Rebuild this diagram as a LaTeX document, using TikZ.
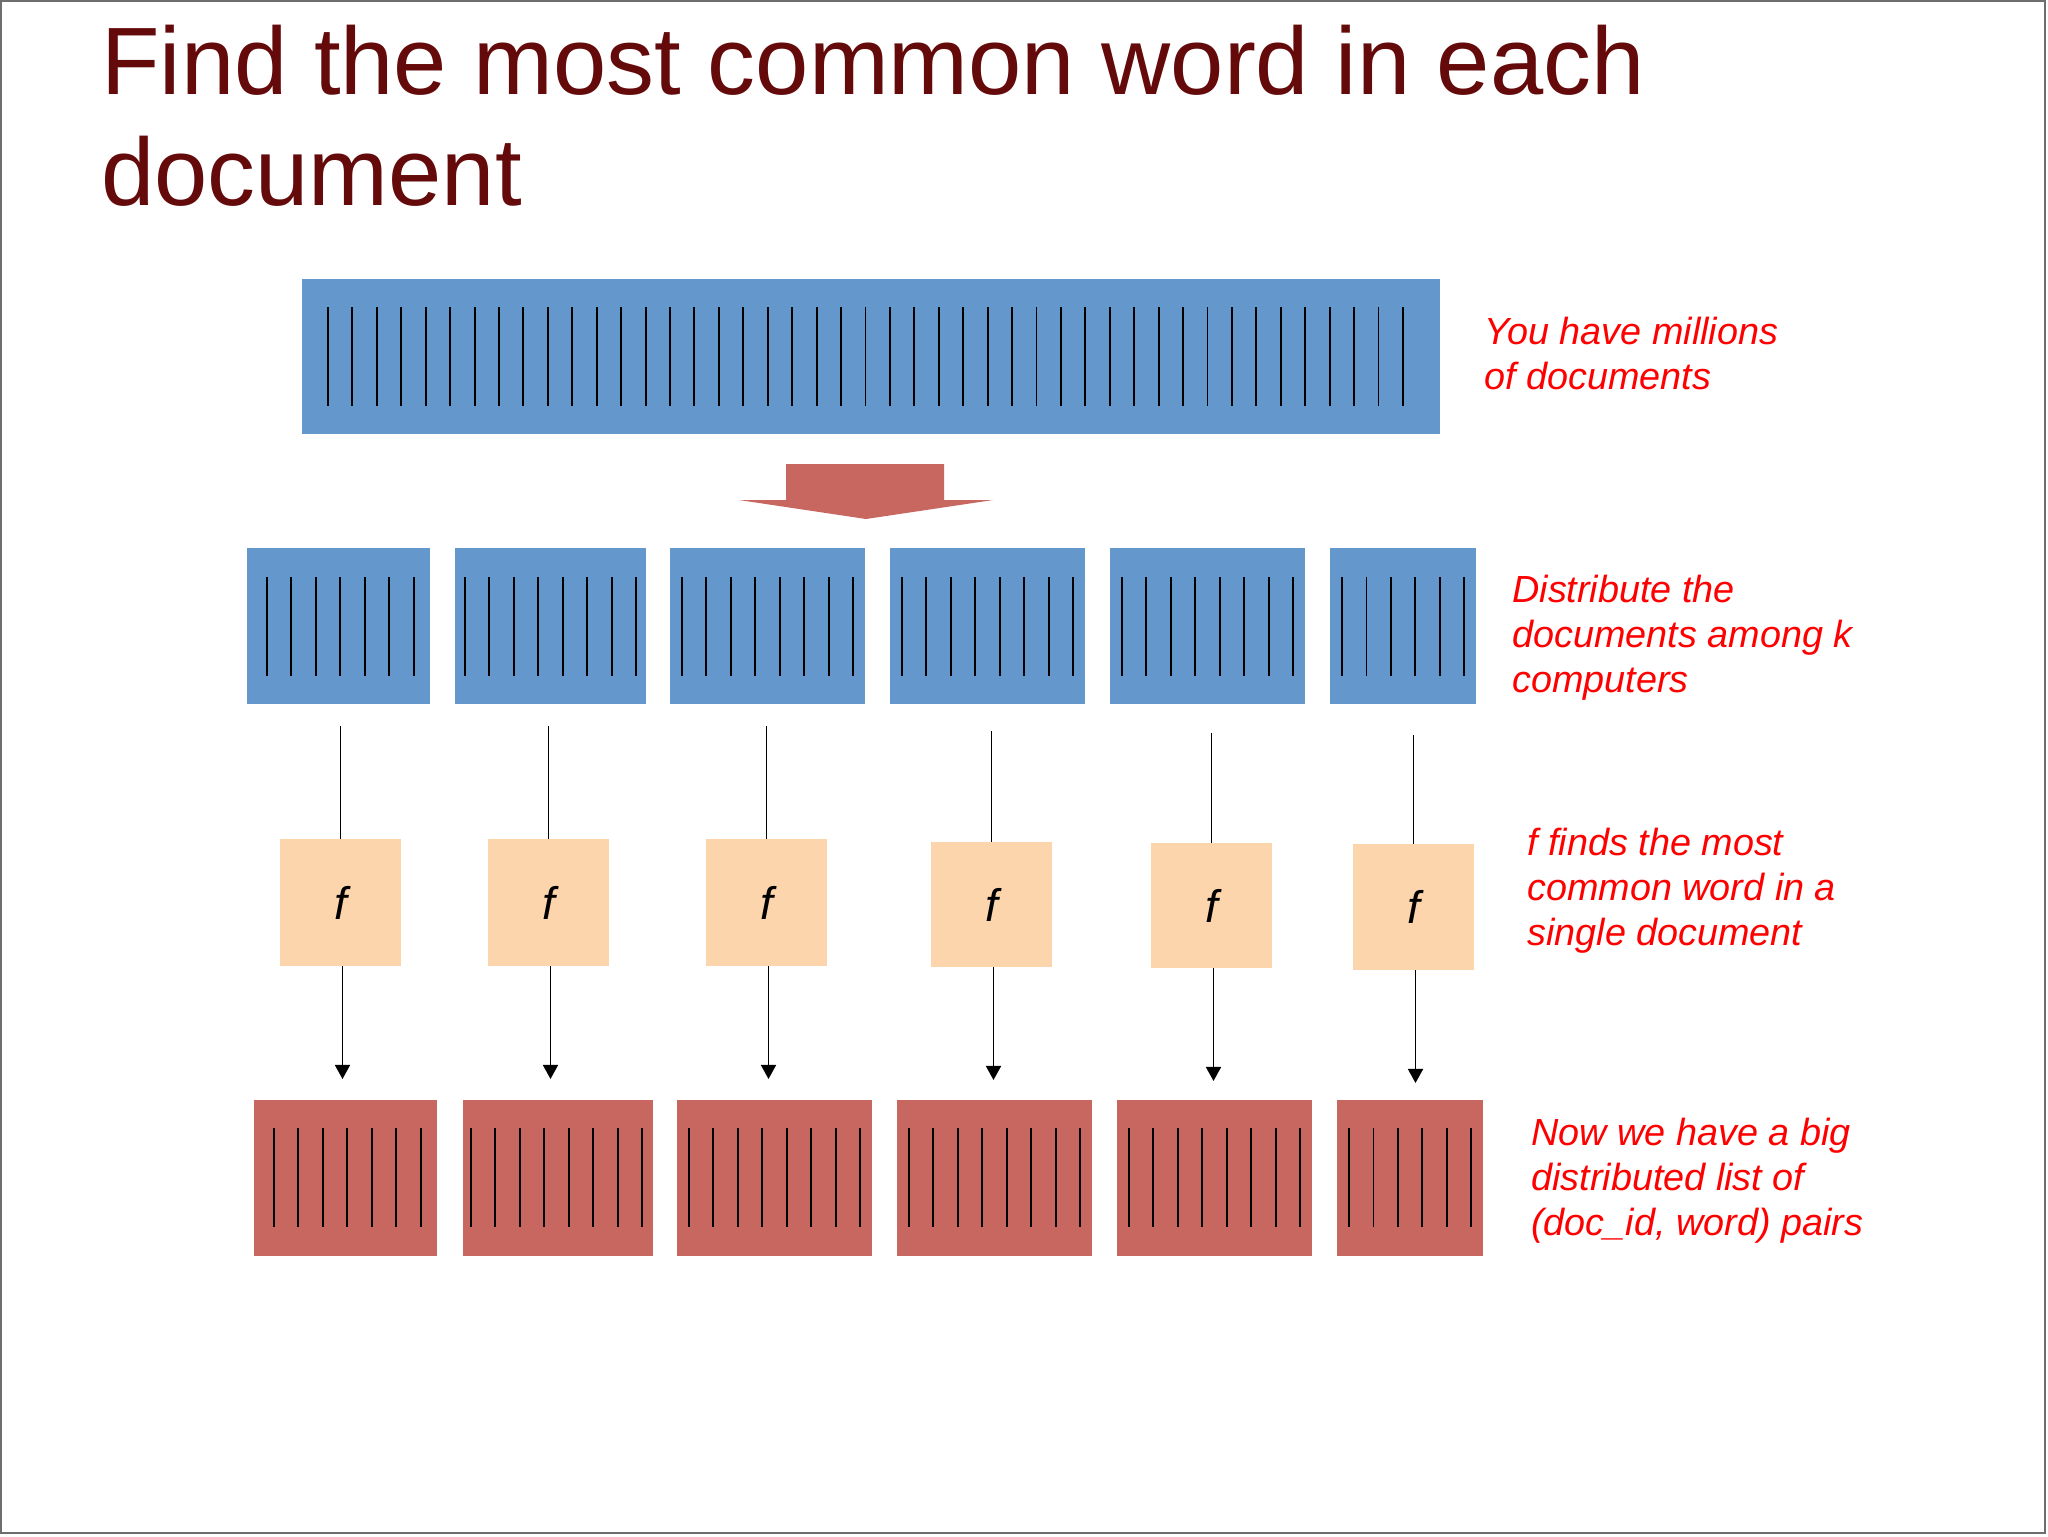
\documentclass[tikz,border=0pt]{standalone}
\usepackage{fontspec}
\setmainfont{Liberation Sans}
\usetikzlibrary{arrows.meta,calc}
\definecolor{docblue}{RGB}{100,151,203}
\definecolor{docred}{RGB}{200,102,96}
\definecolor{fpeach}{RGB}{252,213,172}
\definecolor{titlered}{RGB}{100,10,10}
\definecolor{notered}{RGB}{255,0,0}
\definecolor{framegray}{RGB}{110,110,110}
\newcommand{\mkbox}[6]{% style, name, x1, y1, x2, y2
  \node[#1, minimum width={(#5-#3)*0.02cm}, minimum height={(#6-#4)*0.02cm}] (#2) at ({(#3+#5)/2},{(#4+#6)/2}) {};}
\newcommand{\docrules}[4]{% first x, count, y1, y2
  \foreach \i in {1,...,#2} \draw[docline] ({#1+(\i-1)*24.45},#3) -- ({#1+(\i-1)*24.45},#4);}
\begin{document}
\begin{tikzpicture}[x=0.02cm,y=-0.02cm,
  boxbase/.style={draw=none, inner sep=0pt, outer sep=0pt, rectangle},
  bluebox/.style={boxbase, fill=docblue},
  redbox/.style={boxbase, fill=docred},
  fbox/.style={boxbase, fill=fpeach, font=\fontsize{26pt}{30pt}\selectfont\itshape},
  docline/.style={black, line width=1.1pt},
  conn/.style={black, line width=1.1pt},
  arr/.style={conn, -{Triangle[width=8.5pt,length=8pt]}},
  note/.style={anchor=base west, inner sep=0pt, text=notered, font=\fontsize{21.5pt}{26pt}\selectfont\itshape},
  titletext/.style={anchor=base west, inner sep=0pt, text=titlered, font=\fontsize{54.5pt}{65pt}\selectfont}
]
\useasboundingbox (0,0) rectangle (2048,1536);
\fill[white] (0,0) rectangle (2048,1536);
\draw[framegray, line width=1.4pt] (1,1) rectangle (2045,1533);

% title
\node[titletext] (title1) at (101,94) {Find the most common word in each};
\node[titletext] (title2) at (101,205) {document};

% top bar
\mkbox{bluebox}{all}{302}{279}{1440}{434}
\foreach \i in {0,...,44} \draw[docline] ({328+\i*24.43},307) -- ({328+\i*24.43},406);

% big arrow
\fill[docred] (786,464) -- (944,464) -- (944,500) -- (993,500) -- (866,519) -- (739,500) -- (786,500) -- cycle;

% distributed blue boxes
\mkbox{bluebox}{b1}{247}{548}{430}{704}
\mkbox{bluebox}{b2}{455}{548}{646}{704}
\mkbox{bluebox}{b3}{670}{548}{865}{704}
\mkbox{bluebox}{b4}{890}{548}{1085}{704}
\mkbox{bluebox}{b5}{1110}{548}{1305}{704}
\mkbox{bluebox}{b6}{1330}{548}{1476}{704}
\docrules{267}{7}{577}{676}
\docrules{465}{8}{577}{676}
\docrules{682}{8}{577}{676}
\docrules{902}{8}{577}{676}
\docrules{1122}{8}{577}{676}
\docrules{1342}{6}{577}{676}

% f boxes
\node[fbox, minimum width={121*0.02cm}, minimum height={127*0.02cm}] (f1) at (340.5,902.5) {f};
\node[fbox, minimum width={121*0.02cm}, minimum height={127*0.02cm}] (f2) at (548.5,902.5) {f};
\node[fbox, minimum width={121*0.02cm}, minimum height={127*0.02cm}] (f3) at (766.5,902.5) {f};
\node[fbox, minimum width={121*0.02cm}, minimum height={125*0.02cm}] (f4) at (991.5,904.5) {f};
\node[fbox, minimum width={121*0.02cm}, minimum height={125*0.02cm}] (f5) at (1211.5,905.5) {f};
\node[fbox, minimum width={121*0.02cm}, minimum height={126*0.02cm}] (f6) at (1413.5,907) {f};

% red result boxes
\mkbox{redbox}{r1}{254}{1100}{437}{1256}
\mkbox{redbox}{r2}{463}{1100}{653}{1256}
\mkbox{redbox}{r3}{677}{1100}{872}{1256}
\mkbox{redbox}{r4}{897}{1100}{1092}{1256}
\mkbox{redbox}{r5}{1117}{1100}{1312}{1256}
\mkbox{redbox}{r6}{1337}{1100}{1483}{1256}
\docrules{274}{7}{1128}{1227}
\docrules{471}{8}{1128}{1227}
\docrules{689}{8}{1128}{1227}
\docrules{909}{8}{1128}{1227}
\docrules{1129}{8}{1128}{1227}
\docrules{1349}{6}{1128}{1227}

% connectors
\foreach \k/\ty in {1/726,2/726,3/726,4/728,5/729,6/730} {
  \coordinate (t\k) at ($(f\k.north)+(0,\ty-839)$);
  \coordinate (s\k) at ($(f\k.south)+(2,0)$);
  \coordinate (e\k) at ($(f\k.south)+(2,113)$);
  \draw[conn] (t\k) -- (f\k.north);
  \draw[arr] (s\k) -- (e\k);
}

% notes
\node[note] (n1a) at (1484,344) {You have millions};
\node[note] (n1b) at (1484,389) {of documents};
\node[note] (n2a) at (1512,602) {Distribute the};
\node[note] (n2b) at (1512,647) {documents among k};
\node[note] (n2c) at (1512,692) {computers};
\node[note] (n3a) at (1527,855) {f finds the most};
\node[note] (n3b) at (1527,900) {common word in a};
\node[note] (n3c) at (1527,945) {single document};
\node[note] (n4a) at (1531,1145) {Now we have a big};
\node[note] (n4b) at (1531,1190) {distributed list of};
\node[note] (n4c) at (1531,1235) {(doc\textunderscore id, word) pairs};
\end{tikzpicture}
\end{document}
